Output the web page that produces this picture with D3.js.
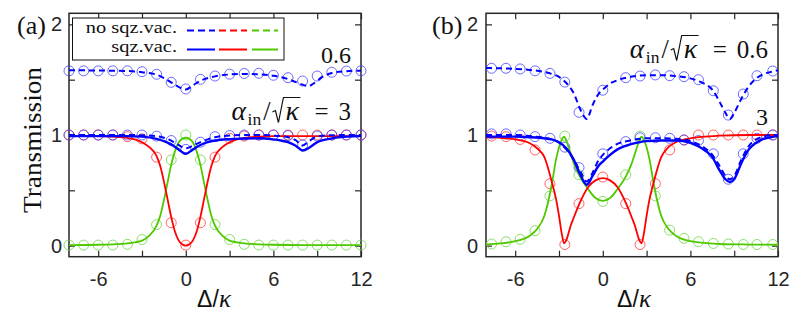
<!DOCTYPE html>
<html>
<head>
<meta charset="utf-8">
<script src="https://cdn.jsdelivr.net/npm/d3@7"></script>
<style>
  html, body { margin: 0; padding: 0; background: #fff; }
  svg { display: block; }
</style>
</head>
<body>
<svg id="chart" width="805" height="323"></svg>
<script>
// ---------- data: panel (a) ----------
const L_XC = [-8,-7,-6,-5,-4,-3,-2,-1,0,1,2,3,4,5,6,7,8,9,10,11,12];
const L_C06 = [1.58,1.58,1.58,1.58,1.58,1.572,1.549,1.476,1.416,1.503,1.533,1.55,1.556,1.558,1.54,1.518,1.488,1.533,1.567,1.578,1.58];
const L_C3 = [1.0,1.0,1.0,1.0,1.0,1.0,0.99,0.95,0.87,0.935,0.985,0.995,1.0,1.0,1.0,0.995,0.91,0.99,1.0,1.0,1.0];
const L_CRED = [1.0,1.0,1.0,1.0,0.985,0.965,0.80,0.207,0.005,0.207,0.80,0.97,0.99,1.0,1.0,1.0,1.0,1.0,1.0,1.0,1.0];
const L_CGREEN = [0.005,0.005,0.005,0.005,0.012,0.055,0.19,0.775,1.0,0.775,0.19,0.055,0.012,0.005,0.005,0.005,0.005,0.005,0.005,0.005,0.005];

const L_X06 = [-8,-6,-4,-3,-2,-1.5,-1,-0.5,0,0.5,1,2,3,4,5,6,7,7.5,8,8.4,8.8,9.3,10,11,12];
const L_Y06 = [1.585,1.583,1.578,1.568,1.545,1.515,1.475,1.435,1.412,1.45,1.49,1.53,1.547,1.552,1.548,1.535,1.505,1.48,1.455,1.442,1.47,1.52,1.56,1.577,1.582];

const L_X3 = [-8,-6,-4,-3,-2,-1.5,-1,-0.5,0,0.5,1,1.5,2,3,4,5,6,6.5,7,7.5,8,8.5,9,10,11,12];
const L_Y3_SQZ = [0.99,0.99,0.99,0.985,0.965,0.945,0.915,0.87,0.83,0.87,0.91,0.935,0.95,0.963,0.968,0.97,0.96,0.95,0.935,0.905,0.86,0.89,0.935,0.97,0.985,0.99];
const L_Y3_NOSQZ = [1.0,1.0,1.0,0.998,0.99,0.975,0.95,0.91,0.88,0.905,0.935,0.96,0.98,0.995,1.0,1.0,0.995,0.99,0.98,0.955,0.905,0.95,0.985,0.998,1.0,1.0];

const L_XRG = [-8,-6,-5,-4,-3.5,-3,-2.5,-2,-1.75,-1.5,-1.25,-1,-0.75,-0.5,-0.25,0,0.25,0.5,0.75,1,1.25,1.5,1.75,2,2.5,3,3.5,4,5,6,8,10,12];
const L_YRED = [0.99,0.99,0.985,0.975,0.96,0.935,0.89,0.81,0.72,0.58,0.42,0.26,0.13,0.05,0.012,0,0.012,0.05,0.13,0.26,0.42,0.58,0.72,0.81,0.89,0.935,0.96,0.975,0.985,0.99,0.99,0.99,0.99];
const L_YGREEN = [0.005,0.008,0.012,0.02,0.03,0.045,0.09,0.18,0.27,0.41,0.57,0.73,0.85,0.93,0.965,0.975,0.965,0.93,0.85,0.73,0.57,0.41,0.27,0.18,0.09,0.045,0.03,0.02,0.012,0.008,0.005,0.005,0.005];

// ---------- data: panel (b) ----------
const R_XC = [-7.62,-6.63,-5.66,-4.64,-3.62,-2.6,-1.63,0,1.57,2.55,3.6,4.58,5.56,6.55,7.57,8.6,9.62,10.56,11.64];
const R_C06 = [1.603,1.603,1.597,1.58,1.557,1.478,1.205,1.405,1.518,1.533,1.543,1.536,1.527,1.5,1.4,1.18,1.37,1.536,1.578];
const R_C3 = [1.01,1.01,1.0,0.985,0.97,0.89,0.705,0.83,0.94,0.975,0.975,0.97,0.955,0.95,0.83,0.6,0.83,0.97,1.0];
const R_CRED = [0.99,0.985,0.96,0.865,0.56,0.01,0.38,0.62,0.38,0.01,0.56,0.865,0.955,1.0,1.0,1.0,1.0,1.0,1.0];
const R_CGREEN = [0.015,0.035,0.057,0.135,0.45,0.99,0.64,0.40,0.64,0.99,0.45,0.14,0.066,0.035,0.02,0.015,0.01,0.01,0.01];

const R_XB = [-8,-7,-6,-5,-4,-3.5,-3,-2.5,-2,-1.5,-1.1,-0.7,-0.3,0,0.5,1,1.5,2,3,4,5,6,6.5,7,7.5,8,8.4,8.7,9,9.5,10,10.5,11,11.5,12];
const R_Y06 = [1.605,1.603,1.598,1.588,1.57,1.552,1.525,1.47,1.38,1.22,1.145,1.27,1.37,1.41,1.465,1.495,1.515,1.528,1.54,1.54,1.532,1.512,1.49,1.46,1.41,1.3,1.2,1.145,1.2,1.33,1.44,1.51,1.55,1.57,1.585];
const R_Y3_SQZ = [0.985,0.985,0.985,0.98,0.97,0.96,0.935,0.88,0.78,0.63,0.55,0.63,0.72,0.76,0.82,0.87,0.9,0.92,0.945,0.95,0.95,0.93,0.9,0.86,0.8,0.68,0.6,0.575,0.6,0.75,0.87,0.93,0.965,0.98,0.99];
const R_Y3_NOSQZ = [1.0,1.0,1.0,0.99,0.975,0.96,0.93,0.87,0.78,0.66,0.58,0.66,0.77,0.82,0.88,0.92,0.94,0.955,0.97,0.97,0.965,0.945,0.92,0.88,0.82,0.72,0.63,0.6,0.63,0.78,0.9,0.96,0.985,1.0,1.0];

const R_XRG = [-8,-7,-6,-5,-4.5,-4,-3.5,-3.2,-3,-2.8,-2.65,-2.5,-2.2,-2,-1.6,-1,-0.5,0,0.5,1,1.6,2,2.2,2.5,2.65,2.8,3,3.2,3.5,4,4.5,5,6,7,8,10,12];
const R_YRED = [0.98,0.975,0.96,0.925,0.88,0.8,0.58,0.42,0.27,0.1,0.02,0.05,0.18,0.25,0.38,0.53,0.59,0.61,0.59,0.53,0.38,0.25,0.18,0.05,0.02,0.1,0.27,0.42,0.58,0.8,0.89,0.935,0.97,0.985,0.995,1.0,1.0];
const R_YGREEN = [0.01,0.02,0.04,0.09,0.15,0.27,0.55,0.78,0.89,0.96,0.985,0.95,0.83,0.75,0.63,0.51,0.43,0.405,0.43,0.51,0.63,0.75,0.83,0.95,0.985,0.96,0.89,0.78,0.55,0.27,0.15,0.09,0.04,0.025,0.015,0.01,0.008];

// ---------- axes ----------
const X_DOMAIN = [-8, 12];
const Y_DOMAIN = [-0.1, 2.1];
const X_TICKS = [-6, -3, 0, 3, 6, 9, 12];
const X_LABELED = [-6, 0, 6, 12];
const Y_TICKS = [0, 0.5, 1, 1.5, 2];
const Y_LABELED = [0, 1, 2];

const COL = { blue: "#0000ff", red: "#ff0000", green: "#4fc800",
              cBlue: "#3b3bff", cRed: "#ff3030", cGreen: "#66d13a", axis: "#262626" };

const svg = d3.select("#chart");
const TOP = 13.3, BOTTOM = 256.7;
const y = d3.scaleLinear().domain(Y_DOMAIN).range([BOTTOM, TOP]);

function zip(xs, ys) { return xs.map((v, i) => [v, ys[i]]); }

function drawPanel(left, right, p) {
  const x = d3.scaleLinear().domain(X_DOMAIN).range([left, right]);
  const g = svg.append("g");
  const fmtX = d => X_LABELED.includes(d) ? String(d) : "";
  const fmtY = d => Y_LABELED.includes(d) ? String(d) : "";

  const axes = [
    [d3.axisBottom(x).tickValues(X_TICKS).tickSizeInner(-6).tickSizeOuter(0).tickPadding(15).tickFormat(fmtX), `translate(0,${BOTTOM})`],
    [d3.axisTop(x).tickValues(X_TICKS).tickSizeInner(-6).tickSizeOuter(0).tickFormat(() => ""), `translate(0,${TOP})`],
    [d3.axisLeft(y).tickValues(Y_TICKS).tickSizeInner(-6).tickSizeOuter(0).tickPadding(p.yPad).tickFormat(fmtY), `translate(${left},0)`],
    [d3.axisRight(y).tickValues(Y_TICKS).tickSizeInner(-6).tickSizeOuter(0).tickFormat(() => ""), `translate(${right},0)`]
  ];
  axes.forEach(([ax, tr]) => {
    const a = g.append("g").attr("transform", tr).call(ax);
    a.select(".domain").remove();
    a.selectAll("line").attr("stroke", COL.axis).attr("stroke-width", 1.2);
    a.selectAll("text").attr("fill", COL.axis).attr("font-family", "'Liberation Sans', Arial, sans-serif").attr("font-size", 20);
  });
  g.append("rect").attr("x", left).attr("y", TOP).attr("width", right - left).attr("height", BOTTOM - TOP)
    .attr("fill", "none").attr("stroke", COL.axis).attr("stroke-width", 1.5);

  const line = d3.line().x(d => x(d[0])).y(d => y(d[1])).curve(d3.curveMonotoneX);

  // simulation markers
  const circ = (xs, ys, c) => g.append("g").selectAll("circle").data(zip(xs, ys)).join("circle")
    .attr("cx", d => x(d[0])).attr("cy", d => y(d[1])).attr("r", 5)
    .attr("fill", "none").attr("stroke", c).attr("stroke-width", 1).attr("stroke-opacity", 0.75);
  circ(p.xc, p.cGreen, COL.cGreen);
  circ(p.xc, p.cRed, COL.cRed);
  circ(p.xc, p.c3, COL.cBlue);
  circ(p.xc, p.c06, COL.cBlue);

  // theory curves
  const path = (xs, ys, c, w, dash) => g.append("path").datum(zip(xs, ys)).attr("d", line)
    .attr("fill", "none").attr("stroke", c).attr("stroke-width", w).attr("stroke-dasharray", dash || null);
  path(p.xrg, p.green, COL.green, 1.8);
  path(p.xrg, p.red, COL.red, 1.8);
  path(p.x3, p.y3n, COL.blue, 2, "6,4");
  path(p.x3, p.y3s, COL.blue, 2.4);
  path(p.x06, p.y06, COL.blue, 2, "6,4");
  return { g, x };
}

drawPanel(69, 361, {
  yPad: 7, xc: L_XC, c06: L_C06, c3: L_C3, cRed: L_CRED, cGreen: L_CGREEN,
  x06: L_X06, y06: L_Y06, x3: L_X3, y3s: L_Y3_SQZ, y3n: L_Y3_NOSQZ,
  xrg: L_XRG, red: L_YRED, green: L_YGREEN
});
drawPanel(486, 778, {
  yPad: 8, xc: R_XC, c06: R_C06, c3: R_C3, cRed: R_CRED, cGreen: R_CGREEN,
  x06: R_XB, y06: R_Y06, x3: R_XB, y3s: R_Y3_SQZ, y3n: R_Y3_NOSQZ,
  xrg: R_XRG, red: R_YRED, green: R_YGREEN
});

// ---------- text ----------
const SERIF = "'Liberation Serif', 'Times New Roman', serif";
const SANS = "'Liberation Sans', Arial, sans-serif";
const INK = "#111";

svg.append("text").attr("x", 17).attr("y", 34).attr("font-family", SERIF).attr("font-size", 26).attr("fill", INK).text("(a)");
svg.append("text").attr("x", 432).attr("y", 34).attr("font-family", SERIF).attr("font-size", 26).attr("fill", INK).text("(b)");

svg.append("text").attr("transform", "translate(41,140) rotate(-90)").attr("text-anchor", "middle")
  .attr("font-family", SERIF).attr("font-size", 26).attr("fill", INK)
  .attr("textLength", 146).attr("lengthAdjust", "spacingAndGlyphs").text("Transmission");

function xLabel(cx) {
  const t = svg.append("text").attr("x", cx).attr("y", 307).attr("text-anchor", "middle")
    .attr("font-family", SANS).attr("font-size", 23).attr("fill", INK);
  t.append("tspan").text("Δ/");
  t.append("tspan").attr("font-family", SERIF).attr("font-style", "italic").attr("font-size", 25).text("κ");
}
xLabel(214);
xLabel(634);

// α_in/√κ = value, right-aligned at xRight, with a drawn radical sign
function mathLabel(xRight, yBase, tail, size) {
  const grp = svg.append("g").attr("font-family", SERIF).attr("fill", INK);
  let cx = 0;
  const put = (t, opts = {}) => {
    const el = grp.append("text").attr("x", cx).attr("y", opts.dy || 0)
      .attr("font-size", opts.size || size)
      .attr("font-style", opts.italic ? "italic" : "normal").text(t);
    const w = el.node().getComputedTextLength();
    cx += w + (opts.gap || 0);
    return w;
  };
  put("α", { italic: true, gap: 1.5, size: size * 1.1 });
  put("in", { size: size * 0.7, dy: size * 0.2, gap: 2 });
  put("/", { gap: 2, size: size * 1.05 });
  // radical sign
  const rx = cx, top = -size * 0.9;
  cx += size * 0.52;
  const kx = cx;
  const kw = put("κ", { italic: true, gap: 0, size: size * 1.12 });
  grp.append("path")
    .attr("d", `M${rx},${-size * 0.32} L${rx + size * 0.12},${-size * 0.38} L${rx + size * 0.24},${size * 0.1} L${rx + size * 0.44},${top} L${kx + kw + 1.5},${top}`)
    .attr("fill", "none").attr("stroke", INK).attr("stroke-width", 1.2).attr("stroke-linejoin", "miter");
  cx += size * 0.62;
  put("=", { gap: size * 0.4 });
  put(tail);
  grp.attr("transform", `translate(${xRight - cx},${yBase})`);
}
mathLabel(351, 120, "3", 25);
mathLabel(768, 58, "0.6", 25);

svg.append("text").attr("x", 351).attr("y", 63).attr("text-anchor", "end")
  .attr("font-family", SERIF).attr("font-size", 24).attr("fill", INK).text("0.6");
svg.append("text").attr("x", 768).attr("y", 125).attr("text-anchor", "end")
  .attr("font-family", SERIF).attr("font-size", 24).attr("fill", INK).text("3");

// ---------- legend ----------
const lg = svg.append("g");
lg.append("rect").attr("x", 72.5).attr("y", 18).attr("width", 211.5).attr("height", 42)
  .attr("fill", "#fff").attr("stroke", INK).attr("stroke-width", 1);
const LEG_ROWS = [
  { label: "no sqz.vac.", dash: "7,4", y: 30.5, base: 33 },
  { label: "sqz.vac.", dash: null, y: 49.5, base: 52 }
];
const LEG_COLORS = [COL.blue, COL.red, COL.green];
const LEG_SEG = [[187, 215], [219, 247], [252, 278]];
LEG_ROWS.forEach(r => {
  lg.append("text").attr("transform", `translate(177,${r.base}) scale(1.2,1)`).attr("text-anchor", "end")
    .attr("font-family", SERIF).attr("font-size", 17).attr("fill", INK).text(r.label);
  LEG_COLORS.forEach((c, i) => {
    lg.append("line").attr("x1", LEG_SEG[i][0]).attr("x2", LEG_SEG[i][1]).attr("y1", r.y).attr("y2", r.y)
      .attr("stroke", c).attr("stroke-width", 2).attr("stroke-dasharray", r.dash);
  });
});
</script>
</body>
</html>
